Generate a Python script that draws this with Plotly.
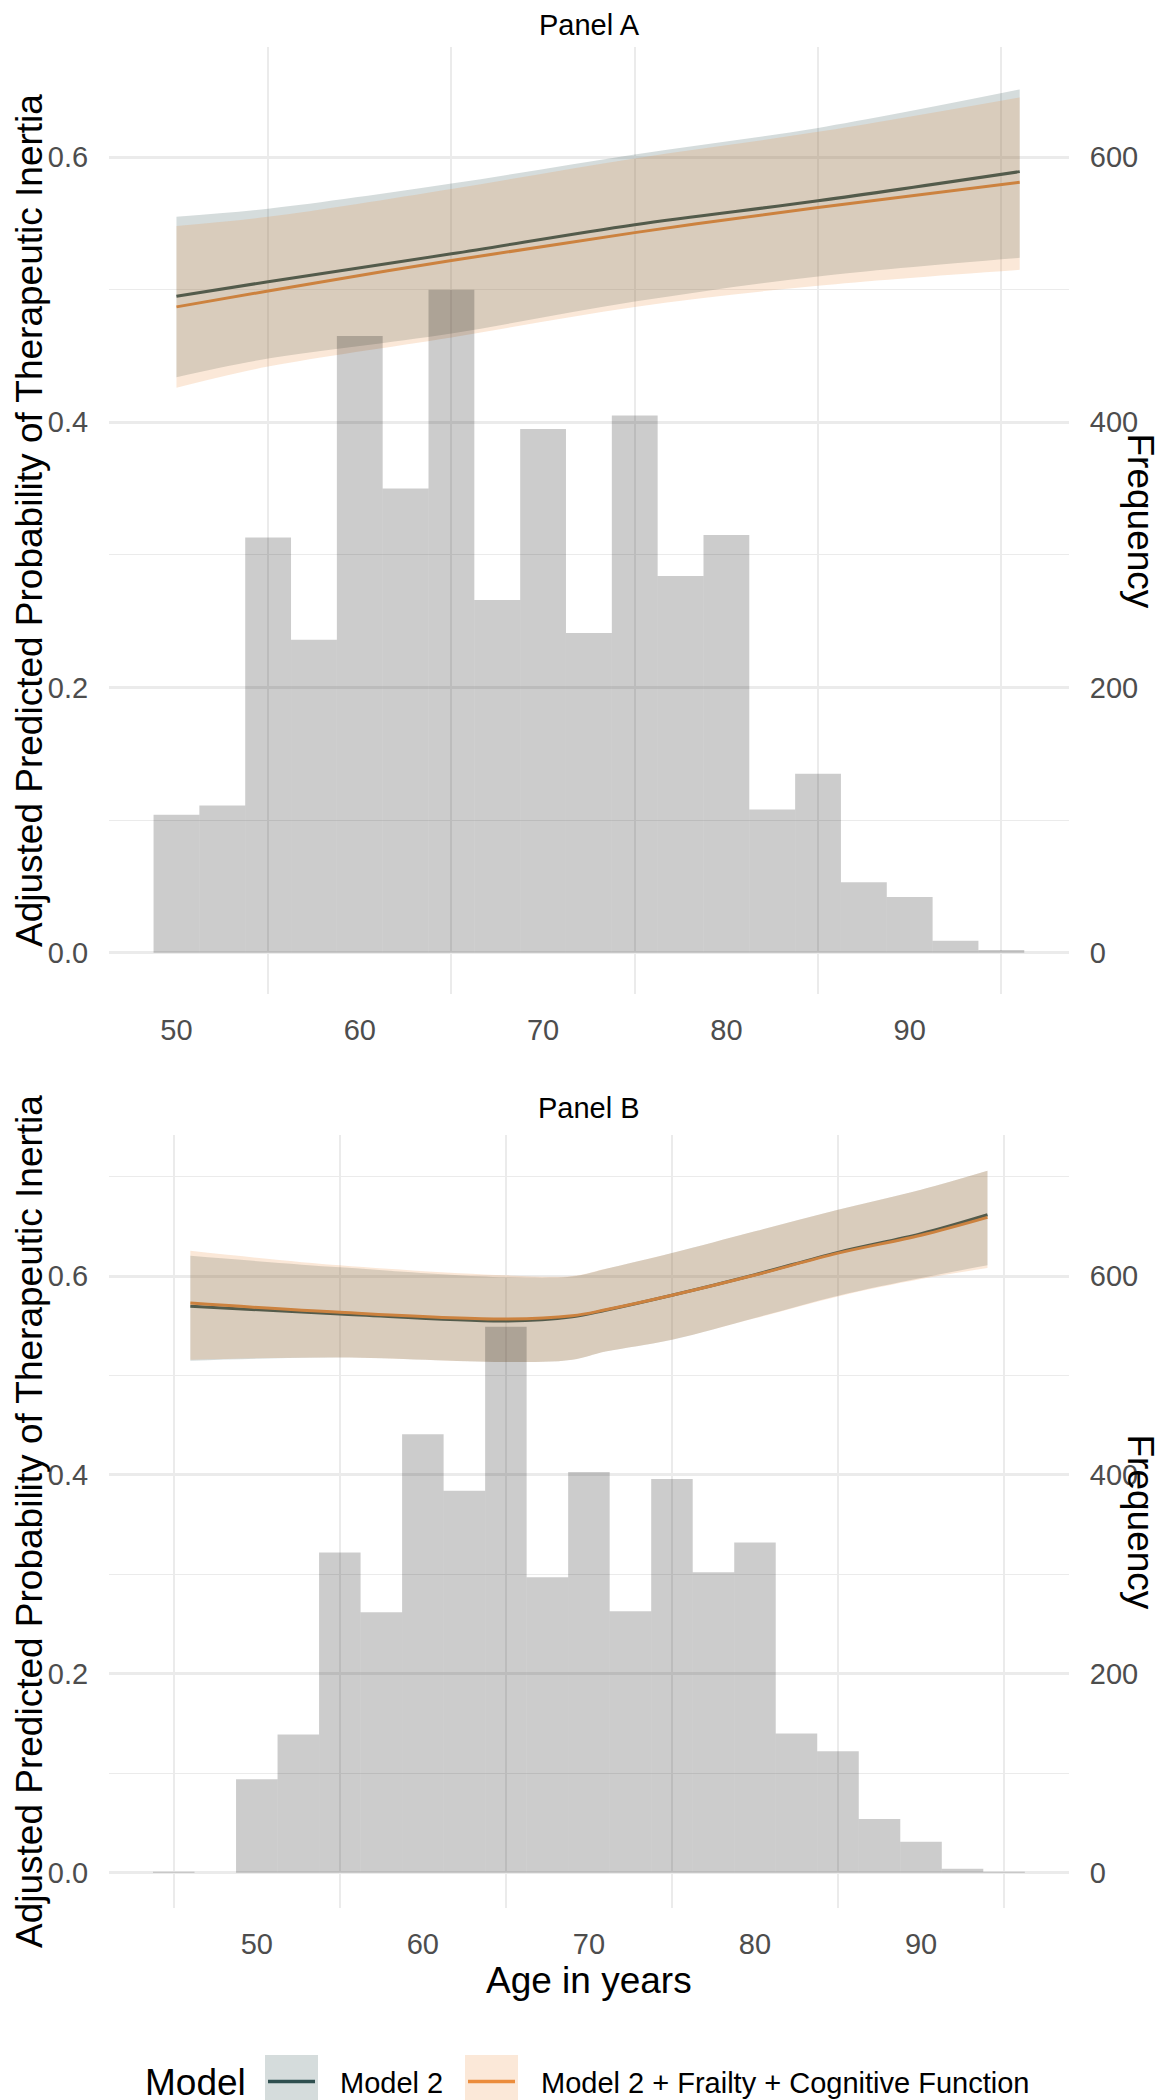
import plotly.graph_objects as go

W, H = 1164, 2100

# ---------------- Panel A data ----------------
ages_a = [50, 55, 65, 75, 85, 96]
a_m2_fit = [0.495, 0.506, 0.527, 0.549, 0.567, 0.589]
a_m2_lo = [0.434, 0.448, 0.467, 0.491, 0.510, 0.524]
a_m2_hi = [0.555, 0.561, 0.580, 0.602, 0.622, 0.651]
a_m3_fit = [0.487, 0.499, 0.522, 0.543, 0.562, 0.581]
a_m3_lo = [0.426, 0.442, 0.464, 0.487, 0.503, 0.515]
a_m3_hi = [0.548, 0.555, 0.576, 0.599, 0.619, 0.645]

hist_a_centers = [50, 52.5, 55, 57.5, 60, 62.5, 65, 67.5, 70, 72.5, 75, 77.5,
                  80, 82.5, 85, 87.5, 90, 92.5, 95]
hist_a_counts = [104, 111, 313, 236, 465, 350, 500, 266, 395, 241, 405, 284,
                 315, 108, 135, 53, 42, 9, 2]

# ---------------- Panel B data ----------------
ages_b = [46, 55, 65, 69, 71, 75, 80, 85, 90, 94]
b_m2_fit = [0.5695, 0.5618, 0.5548, 0.5590, 0.5655, 0.5806, 0.6013, 0.6238, 0.6425, 0.6616]
b_m3_fit = [0.5728, 0.5635, 0.5568, 0.5600, 0.5660, 0.5806, 0.6010, 0.6230, 0.6410, 0.6590]
b_m2_hi = [0.6204, 0.6087, 0.5987, 0.5995, 0.6070, 0.6231, 0.6450, 0.6667, 0.6868, 0.7059]
b_m3_hi = [0.6254, 0.6107, 0.6007, 0.6000, 0.6072, 0.6231, 0.6450, 0.6667, 0.6868, 0.7059]
b_m2_lo = [0.5148, 0.5180, 0.5135, 0.5158, 0.5240, 0.5360, 0.5578, 0.5802, 0.5980, 0.6108]
b_m3_lo = [0.5158, 0.5180, 0.5135, 0.5158, 0.5240, 0.5360, 0.5575, 0.5795, 0.5970, 0.6080]

hist_b_centers = [45, 47.5, 50, 52.5, 55, 57.5, 60, 62.5, 65, 67.5, 70, 72.5,
                  75, 77.5, 80, 82.5, 85, 87.5, 90, 92.5, 95]
hist_b_counts = [1, 0, 94, 139, 322, 262, 441, 384, 549, 297, 403, 263,
                 396, 302, 332, 140, 122, 54, 31, 4, 1]

prob_ticks = [0.0, 0.2, 0.4, 0.6]
prob_minor = [0.1, 0.3, 0.5, 0.7]
freq_ticks = [0, 200, 400, 600]
age_ticks = [50, 60, 70, 80, 90]
age_minor = [45, 55, 65, 75, 85, 95]

legend_labels = ["Model 2", "Model 2 + Frailty + Cognitive Function"]

# ---------------- styles ----------------
FONT = "Liberation Sans, Arial, sans-serif"
C_M2 = "#2F4F4F"
C_M3 = "#EB8C3C"
F_M2 = "rgba(47,79,79,0.2)"
F_M3 = "rgba(235,140,60,0.2)"
BAR = "rgba(0,0,0,0.2)"
GRID = "#EBEBEB"
TICKC = "#4D4D4D"


def px(x):
    return x / W


def py(y):
    return 1 - y / H


fig = go.Figure()


def add_panel(xa, ya, ya2, ages, m2f, m2l, m2h, m3f, m3l, m3h, hc, hn):
    # lines underneath ribbons
    fig.add_trace(go.Scatter(x=ages, y=m2f, mode="lines", line=dict(color=C_M2, width=3, shape="spline"),
                             xaxis=xa, yaxis=ya, showlegend=False, hoverinfo="skip"))
    fig.add_trace(go.Scatter(x=ages, y=m3f, mode="lines", line=dict(color=C_M3, width=3, shape="spline"),
                             xaxis=xa, yaxis=ya, showlegend=False, hoverinfo="skip"))
    # ribbons
    fig.add_trace(go.Scatter(x=ages, y=m2l, mode="lines", line=dict(width=0, shape="spline"),
                             xaxis=xa, yaxis=ya, showlegend=False, hoverinfo="skip"))
    fig.add_trace(go.Scatter(x=ages, y=m2h, mode="lines", line=dict(width=0, shape="spline"),
                             fill="tonexty", fillcolor=F_M2,
                             xaxis=xa, yaxis=ya, showlegend=False, hoverinfo="skip"))
    fig.add_trace(go.Scatter(x=ages, y=m3l, mode="lines", line=dict(width=0, shape="spline"),
                             xaxis=xa, yaxis=ya, showlegend=False, hoverinfo="skip"))
    fig.add_trace(go.Scatter(x=ages, y=m3h, mode="lines", line=dict(width=0, shape="spline"),
                             fill="tonexty", fillcolor=F_M3,
                             xaxis=xa, yaxis=ya, showlegend=False, hoverinfo="skip"))
    # histogram on frequency axis
    fig.add_trace(go.Bar(x=hc, y=hn, width=2.5, marker=dict(color=BAR, line=dict(width=0)),
                         xaxis=xa, yaxis=ya2, showlegend=False, hoverinfo="skip"))


add_panel("x", "y", "y2", ages_a, a_m2_fit, a_m2_lo, a_m2_hi, a_m3_fit, a_m3_lo, a_m3_hi,
          hist_a_centers, hist_a_counts)
add_panel("x2", "y3", "y4", ages_b, b_m2_fit, b_m2_lo, b_m2_hi, b_m3_fit, b_m3_lo, b_m3_hi,
          hist_b_centers, hist_b_counts)

xdom = [px(101), px(1061)]
ydomA = [py(986), py(39)]
ydomB = [py(1900), py(1127)]

tickfont = dict(family=FONT, size=29, color=TICKC)


def xaxis_cfg(rng, anchor):
    return dict(domain=xdom, range=rng, anchor=anchor, tickmode="array", tickvals=age_ticks,
                showgrid=False, zeroline=False, showline=False,
                ticks="outside", ticklen=10, tickcolor="rgba(0,0,0,0)",
                tickfont=tickfont,
                minor=dict(tickmode="array", tickvals=age_minor, showgrid=True,
                           gridcolor=GRID, gridwidth=1.6, ticks=""))


def yaxis_cfg(dom, rng, anchor):
    return dict(domain=dom, range=rng, anchor=anchor, tickmode="array", tickvals=prob_ticks,
                tickformat=".1f", showgrid=True, gridcolor=GRID, gridwidth=2.6,
                zeroline=False, showline=False,
                ticks="outside", ticklen=14, tickcolor="rgba(0,0,0,0)",
                tickfont=tickfont,
                minor=dict(tickmode="array", tickvals=prob_minor, showgrid=True,
                           gridcolor=GRID, gridwidth=1.4, ticks=""))


def y2_cfg(rng, overlay, anchor):
    return dict(range=rng, overlaying=overlay, anchor=anchor, side="right",
                tickmode="array", tickvals=freq_ticks, showgrid=False, zeroline=False,
                showline=False, ticks="outside", ticklen=14, tickcolor="rgba(0,0,0,0)",
                tickfont=tickfont)


rA = [-0.0312, 0.683]
rB = [-0.0355, 0.7418]

fig.update_layout(
    width=W, height=H, autosize=False,
    margin=dict(l=0, r=0, t=0, b=0),
    paper_bgcolor="white", plot_bgcolor="white",
    showlegend=False,
    barmode="overlay",
    xaxis=xaxis_cfg([46.32, 98.69], "y"),
    yaxis=yaxis_cfg(ydomA, rA, "x"),
    yaxis2=y2_cfg([v * 1000 for v in rA], "y", "x"),
    xaxis2=xaxis_cfg([41.10, 98.91], "y3"),
    yaxis3=yaxis_cfg(ydomB, rB, "x2"),
    yaxis4=y2_cfg([v * 1000 for v in rB], "y3", "x2"),
)

ann = []
title_font = dict(family=FONT, size=37, color="black")
panel_font = dict(family=FONT, size=29, color="black")
ylab = "Adjusted Predicted Probability of Therapeutic Inertia"

ann.append(dict(text="Panel A", x=px(581), y=1, xref="paper", yref="paper", borderpad=0,
                showarrow=False, xanchor="center", yanchor="top", font=panel_font))
ann.append(dict(text="Panel B", x=px(581), y=py(1100), xref="paper", yref="paper",
                showarrow=False, xanchor="center", yanchor="middle", font=panel_font))
for yc in (512.5, 1513.5):
    ann.append(dict(text=ylab, x=0, y=py(yc), xref="paper", yref="paper", textangle=-90,
                    borderpad=0, showarrow=False, xanchor="left", yanchor="middle", font=title_font))
    ann.append(dict(text="Frequency", x=px(1132), y=py(yc), xref="paper", yref="paper", textangle=90,
                    borderpad=0, showarrow=False, xanchor="center", yanchor="middle", font=title_font))
ann.append(dict(text="Age in years", x=px(581), y=py(1972), xref="paper", yref="paper",
                showarrow=False, xanchor="center", yanchor="middle", font=title_font))

# legend (manual)
ann.append(dict(text="Model", x=px(135), y=py(2074), xref="paper", yref="paper",
                showarrow=False, xanchor="left", yanchor="middle", font=title_font))
ann.append(dict(text=legend_labels[0], x=px(330), y=py(2075), xref="paper", yref="paper",
                showarrow=False, xanchor="left", yanchor="middle", font=panel_font))
ann.append(dict(text=legend_labels[1], x=px(531), y=py(2075), xref="paper", yref="paper",
                showarrow=False, xanchor="left", yanchor="middle", font=panel_font))

shapes = []
for (x0, fc, lc) in ((257, F_M2, C_M2), (457, F_M3, C_M3)):
    shapes.append(dict(type="rect", xref="paper", yref="paper", x0=px(x0), x1=px(x0 + 53),
                       y0=py(2100), y1=py(2047), fillcolor=fc, line=dict(width=0), layer="above"))
    shapes.append(dict(type="line", xref="paper", yref="paper", x0=px(x0 + 3), x1=px(x0 + 50),
                       y0=py(2073.5), y1=py(2073.5), line=dict(color=lc, width=3.5), layer="above"))

fig.update_layout(annotations=ann, shapes=shapes)

fig.write_html("out.html")
